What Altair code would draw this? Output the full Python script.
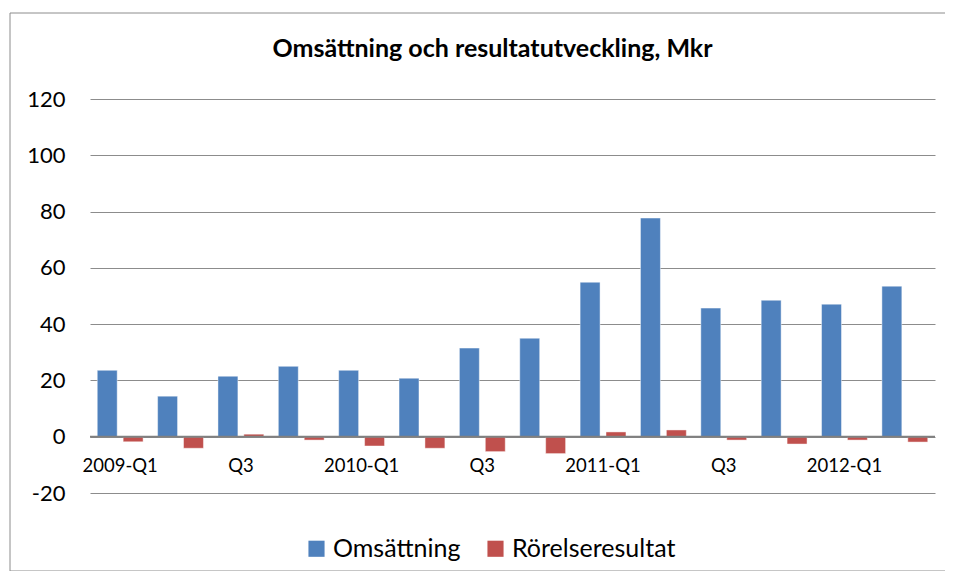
import json
import altair as alt
import pandas as pd

categories = ["2009-Q1", "2009-Q2", "2009-Q3", "2009-Q4",
              "2010-Q1", "2010-Q2", "2010-Q3", "2010-Q4",
              "2011-Q1", "2011-Q2", "2011-Q3", "2011-Q4",
              "2012-Q1", "2012-Q2"]
tick_labels = ["2009-Q1", "", "Q3", "", "2010-Q1", "", "Q3", "",
               "2011-Q1", "", "Q3", "", "2012-Q1", ""]
omsattning = [23.6, 14.4, 21.5, 25.0, 23.6, 20.8, 31.5, 35.0,
              54.9, 77.7, 45.7, 48.5, 47.1, 53.5]
rorelseresultat = [-1.8, -4.1, 0.9, -1.2, -3.3, -4.1, -5.3, -6.0,
                   1.7, 2.4, -1.2, -2.6, -1.2, -1.9]
series = ["Omsättning", "Rörelseresultat"]
colors = ["#4F81BD", "#C0504D"]
y_ticks = [-20, 0, 20, 40, 60, 80, 100, 120]

rows = []
for i, q in enumerate(categories):
    rows.append({"Kvartal": q, "Serie": series[0], "Värde": omsattning[i]})
    rows.append({"Kvartal": q, "Serie": series[1], "Värde": rorelseresultat[i]})
df = pd.DataFrame(rows)

FONT = "Lato"
label_expr = f"{json.dumps(tick_labels)}[indexof({json.dumps(categories)}, datum.value)]"

bars = alt.Chart(df).mark_bar(stroke="#ffffff", strokeOpacity=0.45, strokeWidth=1).encode(
    x=alt.X("Kvartal:N", sort=categories,
            scale=alt.Scale(paddingInner=0, paddingOuter=0),
            axis=alt.Axis(title=None, labelExpr=label_expr, domain=False, ticks=False,
                          grid=False, labelAngle=0, labelFontSize=18.5, labelColor="black",
                          labelPadding=0, offset=-37, labelOverlap=False, labelFont=FONT)),
    xOffset=alt.XOffset("Serie:N", sort=series,
                        scale=alt.Scale(paddingInner=0.23, paddingOuter=0.28)),
    y=alt.Y("Värde:Q", scale=alt.Scale(domain=[-20, 120], nice=False),
            axis=alt.Axis(title=None, values=y_ticks, grid=True, gridColor="#8c8c8c",
                          gridWidth=1, domain=False, ticks=False, labelFontSize=22,
                          labelPadding=25, labelColor="black", labelFont=FONT,
                          labelExpr="'' + datum.value")),
    color=alt.Color("Serie:N", sort=series,
                    scale=alt.Scale(domain=series, range=colors),
                    legend=alt.Legend(title=None, orient="none", legendX=214, legendY=437,
                                      direction="horizontal", symbolType="square",
                                      symbolSize=260, labelFontSize=25, labelFont=FONT,
                                      labelColor="black", columnPadding=22, labelLimit=0,
                                      symbolStrokeWidth=0, symbolOpacity=1)),
)

zero = alt.Chart(pd.DataFrame({"y": [0]})).mark_rule(color="#808080", strokeWidth=2).encode(
    y="y:Q"
)

frame = alt.Chart(alt.Data(values=[{"f": 1}])).mark_rect(
    fillOpacity=0, stroke="#8c8c8c", strokeWidth=1, clip=False
).encode(
    x=alt.value(-80), x2=alt.value(860), y=alt.value(-86), y2=alt.value(472)
)

chart = alt.layer(frame, bars, zero).properties(
    width=845,
    height=394,
    title=alt.Title("Omsättning och resultatutveckling, Mkr", fontSize=25,
                    fontWeight="bold", font=FONT, anchor="middle", color="black",
                    offset=0, dy=49, dx=-20),
    autosize=alt.AutoSizeParams(type="none"),
    padding={"left": 82, "top": 91, "right": 10, "bottom": 78},
).configure_view(stroke=None)

chart.save("out.html", embed_options={"renderer": "svg", "actions": False})
